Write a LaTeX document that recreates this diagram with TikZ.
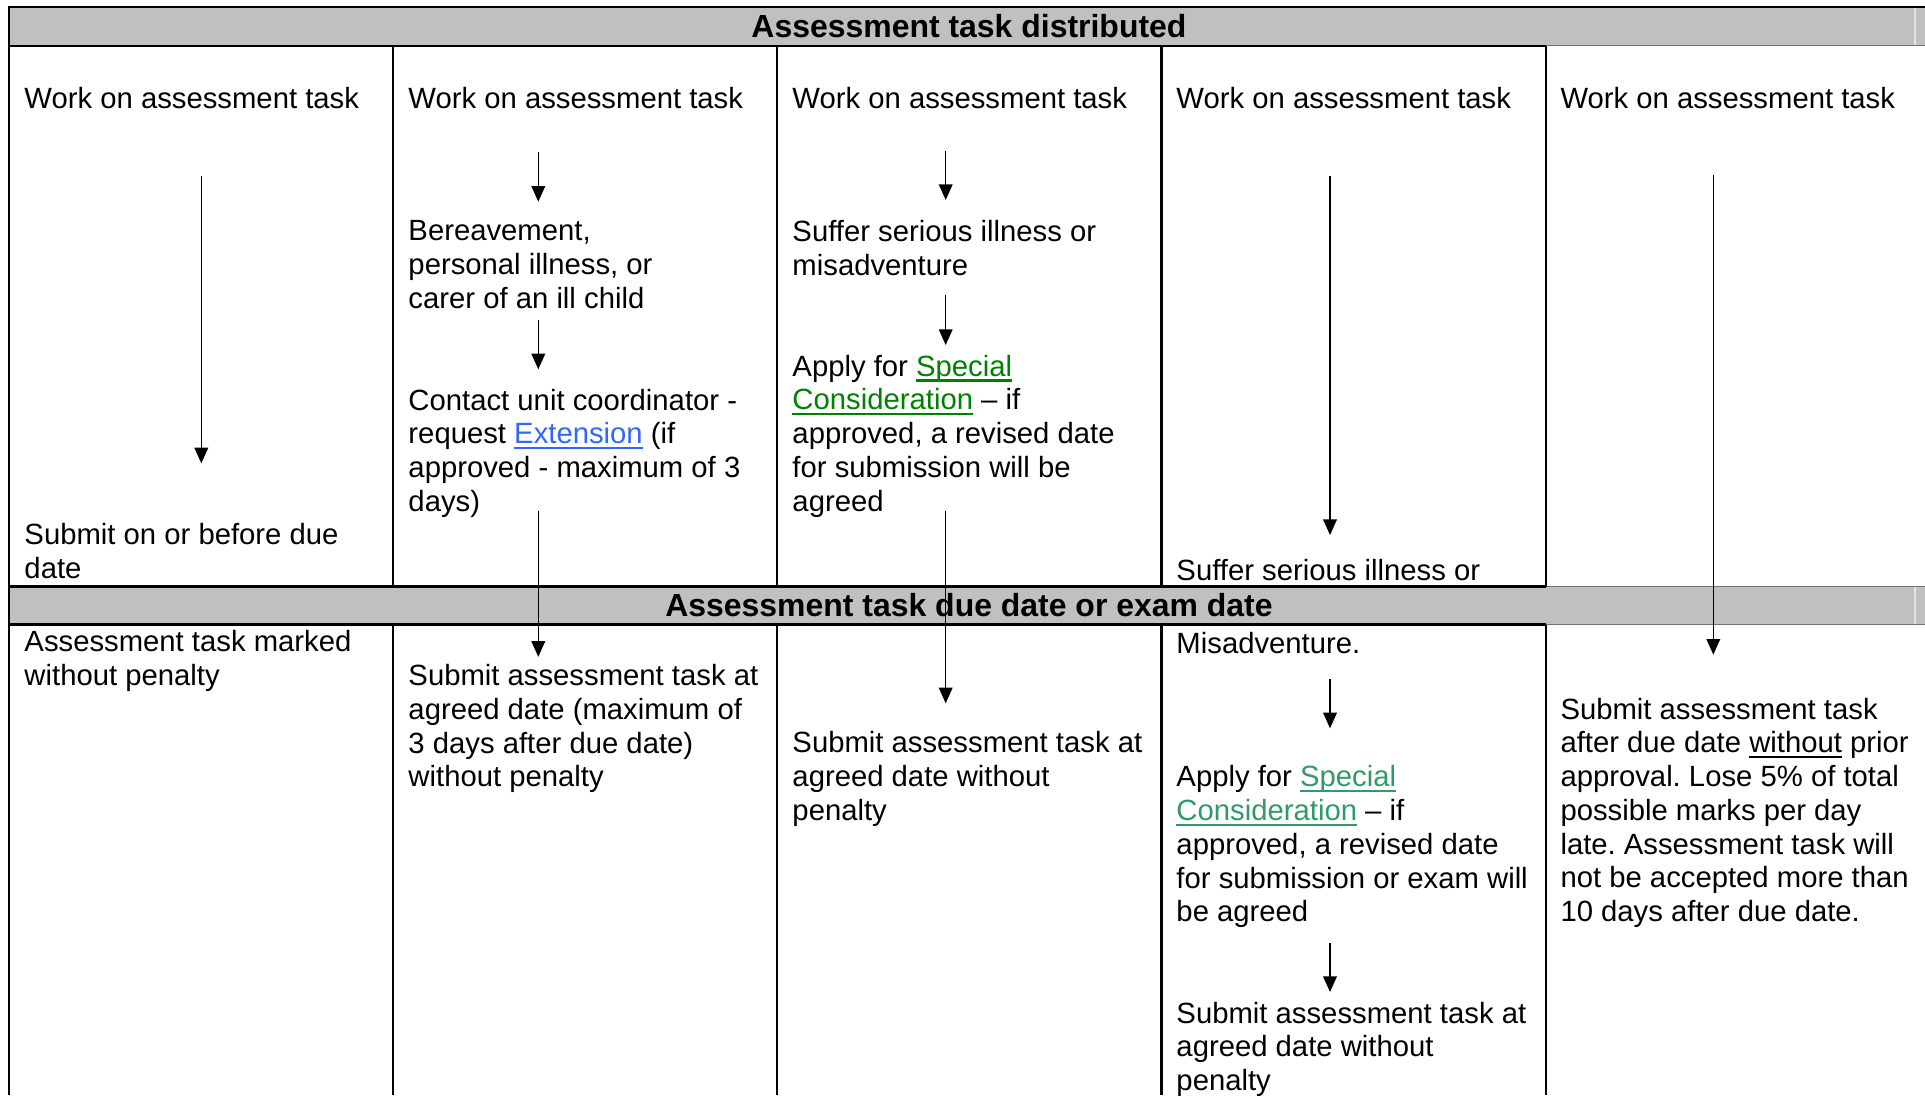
\documentclass[tikz,border=0pt]{standalone}
\usepackage{fontspec}
\setmainfont{Liberation Sans}
\usetikzlibrary{arrows.meta}
\definecolor{bandgray}{RGB}{192,192,192}
\definecolor{extblue}{RGB}{51,102,255}
\definecolor{scgreen}{RGB}{0,128,0}
\definecolor{scgreenb}{RGB}{51,153,102}
\newcommand{\lnk}[2]{\textcolor{#1}{\setbox0\hbox{#2}\rlap{\rule[-2.3pt]{\wd0}{1.1pt}}\box0}}
\frenchspacing
\begin{document}
\begin{tikzpicture}[x=0.41pt, y=-0.41pt, >={Triangle[length=6.4pt,width=5.6pt]},
  txt/.style={anchor=north west, inner sep=0pt, align=left, yshift=9.695pt,
    font=\fontsize{12}{13.85}\selectfont, execute at begin node=\strut},
  bandtxt/.style={anchor=base, inner sep=0pt, font=\fontsize{13.1}{14}\selectfont\bfseries},
  rule/.style={line width=0.85pt},
  ruleg/.style={line width=0.5pt, black!55},
  arr/.style={->, line width=0.55pt}]
\useasboundingbox (0,0) rectangle (1925,1095);
% grey bands
\fill[bandgray] (8,7.3) rectangle (1925,45.7);
\fill[bandgray] (8,586.5) rectangle (1925,624.5);
\draw[white!55!bandgray, line width=0.5pt] (1915,8)--(1915,45) (1915,587)--(1915,624);
% table rules
\draw[rule] (8,7.3)--(1925,7.3);
\draw[rule] (8,45.7)--(1546,45.7) (8,586.5)--(1546,586.5) (8,624.5)--(1546,624.5);
\draw[ruleg] (1546,45.7)--(1925,45.7) (1546,586.5)--(1925,586.5) (1546,624.5)--(1925,624.5);
\draw[rule] (9,7.3)--(9,1095);
\foreach \x in {393,777,1161.5,1546}
  \draw[rule] (\x,45.7)--(\x,586.5) (\x,624.5)--(\x,1095);
\node[bandtxt] (dist) at (969,37) {Assessment task distributed};
\node[bandtxt] (due) at (969,616) {Assessment task due date or exam date};
% first line of every column
\foreach \n/\x in {1/24,2/408,3/792,4/1176,5/1560}
  \node[txt] (w\n) at (\x,107.7) {Work on assessment task};
% column 1
\node[txt] (s1) at (24,546.5) {Submit on or before due\\date};
\node[txt] (m1) at (24,653.5) {Assessment task marked\\without penalty};
% column 2
\node[txt] (b2) at (408,243.5) {Bereavement,\\personal illness, or\\carer of an ill child};
\node[txt] (c2) at (408,412) {Contact unit coordinator -\\request \lnk{extblue}{Extension} (if\\approved - maximum of 3\\days)};
\node[txt] (s2) at (408,687.5) {Submit assessment task at\\agreed date (maximum of\\3 days after due date)\\without penalty};
% column 3
\node[txt] (i3) at (792,243.5) {Suffer serious illness or\\misadventure};
\node[txt] (a3) at (792,378) {Apply for \lnk{scgreen}{Special}\\\lnk{scgreen}{Consideration} \textendash{} if\\approved, a revised date\\for submission will be\\agreed};
\node[txt] (s3) at (792,754.5) {Submit assessment task at\\agreed date without\\penalty};
% column 4
\node[txt] (i4) at (1176,579.5) {Suffer serious illness or};
\node[txt] (m4) at (1176,652.7) {Misadventure.};
\node[txt] (a4) at (1176,788.8) {Apply for \lnk{scgreenb}{Special}\\\lnk{scgreenb}{Consideration} \textendash{} if\\approved, a revised date\\for submission or exam will\\be agreed};
\node[txt] (s4) at (1176,1025) {Submit assessment task at\\agreed date without\\penalty};
% column 5
\node[txt] (s5) at (1560,721) {Submit assessment task\\after due date \lnk{black}{without} prior\\approval. Lose 5\% of total\\possible marks per day\\late. Assessment task will\\not be accepted more than\\10 days after due date.};
% arrows
\foreach \n/\x/\ya/\yb in {1/201.3/175.7/463.3, 2/538.3/151.7/201.7, 3/538.3/320/369.3,
    4/538.3/510.7/656.8, 5/945.7/151/200, 6/945.7/294.6/345, 7/945.7/510.7/703.3,
    8/1330/175.6/535, 9/1330/679/728.3, 10/1330/943/992, 11/1713.3/174.6/654.7}{
  \coordinate (t\n) at (\x,\ya);
  \coordinate (h\n) at (\x,\yb);
  \draw[arr] (t\n)--(h\n);
}
\end{tikzpicture}
\end{document}
